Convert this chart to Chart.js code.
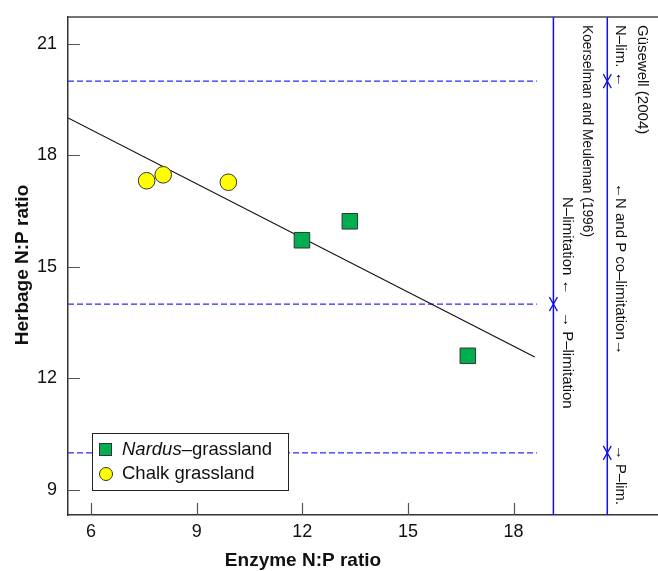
<!DOCTYPE html>
<html>
<head>
<meta charset="utf-8">
<script src="https://cdn.jsdelivr.net/npm/chart.js@4/dist/chart.umd.min.js"></script>
<style>
  html, body { margin: 0; padding: 0; background: #fff; }
  canvas { display: block; }
</style>
</head>
<body>
<canvas id="chart" width="658" height="571"></canvas>
<script>
const xTicks = [6, 9, 12, 15, 18];
const yTicks = [9, 12, 15, 18, 21];

const nardusX = [11.99, 13.35, 16.70];
const nardusY = [15.72, 16.23, 12.61];
const chalkX = [7.58, 8.05, 9.90];
const chalkY = [17.32, 17.48, 17.28];

// regression line end points
const fitX = [5.35, 18.6];
const fitY = [19.01, 12.58];

// thresholds
const dashedY = [10, 14, 20];
const dashedXEnd = 18.66;
const kmLineX = 19.13;      // Koerselman and Meuleman
const kmMarks = [14];
const gLineX = 20.66;       // Güsewell
const gMarks = [10, 20];

const X_MIN = 5.347, X_MAX = 22.10;
const Y_MIN = 8.327, Y_MAX = 21.726;

const FONT = '"Liberation Sans", Arial, sans-serif';

const toPts = (xs, ys) => xs.map((x, i) => ({x: x, y: ys[i]}));

const datasets = [
  {
    label: 'Nardus–grassland',
    data: toPts(nardusX, nardusY),
    pointStyle: 'rect',
    pointRadius: 11,
    backgroundColor: '#00ad4f',
    borderColor: '#333',
    borderWidth: 1,
    order: 0
  },
  {
    label: 'Chalk grassland',
    data: toPts(chalkX, chalkY),
    pointStyle: 'circle',
    pointRadius: 8.3,
    backgroundColor: '#ffff00',
    borderColor: '#333',
    borderWidth: 1,
    order: 0
  },
  {
    type: 'line',
    label: 'fit',
    data: toPts(fitX, fitY),
    borderColor: '#111',
    borderWidth: 1.2,
    pointRadius: 0,
    order: 1
  }
];

dashedY.forEach(v => {
  datasets.push({
    type: 'line',
    label: 'dash',
    data: [{x: X_MIN, y: v}, {x: dashedXEnd, y: v}],
    borderColor: '#2a2aff',
    borderWidth: 1.3,
    borderDash: [6, 3],
    pointRadius: 0,
    order: 2
  });
});

[kmLineX, gLineX].forEach(v => {
  datasets.push({
    type: 'line',
    label: 'vline',
    data: [{x: v, y: Y_MIN}, {x: v, y: Y_MAX}],
    borderColor: '#1010ee',
    borderWidth: 1.5,
    pointRadius: 0,
    order: 2
  });
});

function rotText(ctx, text, x, y, maxW) {
  ctx.save();
  ctx.translate(x, y);
  ctx.rotate(Math.PI / 2);
  ctx.textAlign = 'left';
  ctx.textBaseline = 'middle';
  ctx.fillText(text, 0, 0, maxW);
  ctx.restore();
}

function mark(ctx, x, y) {
  ctx.beginPath();
  ctx.moveTo(x - 4, y - 7); ctx.lineTo(x, y); ctx.lineTo(x + 4, y - 7);
  ctx.moveTo(x - 4, y + 7); ctx.lineTo(x, y); ctx.lineTo(x + 4, y + 7);
  ctx.stroke();
}

const noPad = s => {
  s.paddingLeft = 0; s.paddingRight = 0;
  s.paddingTop = 0; s.paddingBottom = 0;
};

const decor = {
  id: 'decor',
  afterDraw(chart) {
    const ctx = chart.ctx;
    const xs = chart.scales.x, ys = chart.scales.y;
    const area = chart.chartArea;
    ctx.save();

    // top frame
    ctx.strokeStyle = '#444';
    ctx.lineWidth = 1.5;
    ctx.beginPath();
    ctx.moveTo(area.left, area.top);
    ctx.lineTo(area.right, area.top);
    ctx.stroke();

    // inward ticks
    ctx.strokeStyle = '#555';
    ctx.lineWidth = 1.2;
    ctx.beginPath();
    xTicks.forEach(v => {
      const px = Math.round(xs.getPixelForValue(v)) + 0.5;
      ctx.moveTo(px, area.bottom);
      ctx.lineTo(px, area.bottom - 12);
    });
    yTicks.forEach(v => {
      const py = Math.round(ys.getPixelForValue(v)) + 0.5;
      ctx.moveTo(area.left, py);
      ctx.lineTo(area.left + 12, py);
    });
    ctx.stroke();

    // threshold marks
    ctx.strokeStyle = '#1010ee';
    ctx.lineWidth = 1.3;
    kmMarks.forEach(v => mark(ctx, xs.getPixelForValue(kmLineX), ys.getPixelForValue(v)));
    gMarks.forEach(v => mark(ctx, xs.getPixelForValue(gLineX), ys.getPixelForValue(v)));

    // rotated annotations
    ctx.fillStyle = '#111';
    ctx.font = '15px ' + FONT;
    rotText(ctx, 'Koerselman and Meuleman (1996)', 587, 25, 212);
    rotText(ctx, 'N–limitation ←', 567, 197, 100);
    rotText(ctx, '→ P–limitation', 567, 312, 98);
    rotText(ctx, 'Güsewell (2004)', 642, 25, 113);
    rotText(ctx, 'N–lim. ←', 620, 25, 62);
    rotText(ctx, '←N and P co–limitation→', 620, 183, 172);
    rotText(ctx, '→ P–lim.', 620, 445, 60);

    // axis titles
    ctx.font = 'bold 19px ' + FONT;
    ctx.textAlign = 'center';
    ctx.textBaseline = 'alphabetic';
    ctx.fillText('Enzyme N:P ratio', 303, 566);
    ctx.save();
    ctx.translate(27.5, 265);
    ctx.rotate(-Math.PI / 2);
    ctx.fillText('Herbage N:P ratio', 0, 0);
    ctx.restore();

    // legend
    ctx.fillStyle = '#fff';
    ctx.fillRect(92.5, 433.5, 196, 57);
    ctx.strokeStyle = '#222';
    ctx.lineWidth = 1;
    ctx.strokeRect(92.5, 433.5, 196, 57);

    ctx.fillStyle = '#00ad4f';
    ctx.strokeStyle = '#333';
    ctx.fillRect(99.5, 443.5, 12, 12);
    ctx.strokeRect(99.5, 443.5, 12, 12);
    ctx.fillStyle = '#ffff00';
    ctx.beginPath();
    ctx.arc(106, 474, 6.5, 0, Math.PI * 2);
    ctx.fill();
    ctx.stroke();

    ctx.fillStyle = '#111';
    ctx.textAlign = 'left';
    ctx.textBaseline = 'middle';
    ctx.font = 'italic 18.5px ' + FONT;
    ctx.fillText('Nardus', 122, 450);
    const w = ctx.measureText('Nardus').width;
    ctx.font = '18.5px ' + FONT;
    ctx.fillText('–grassland', 122 + w, 450);
    ctx.fillText('Chalk grassland', 122, 474);

    ctx.restore();
  }
};

new Chart(document.getElementById('chart'), {
  type: 'scatter',
  data: {datasets: datasets},
  options: {
    responsive: false,
    animation: false,
    layout: {autoPadding: false, padding: {top: 17, right: 0, left: 0, bottom: 0}},
    plugins: {
      legend: {display: false},
      tooltip: {enabled: false}
    },
    scales: {
      x: {
        type: 'linear',
        min: X_MIN,
        max: X_MAX,
        afterBuildTicks: s => { s.ticks = xTicks.map(v => ({value: v})); },
        afterFit: s => { s.height = 56; noPad(s); },
        grid: {display: false, drawTicks: false, tickLength: 0},
        border: {display: true, color: '#333', width: 1.5},
        ticks: {
          color: '#111',
          padding: 6,
          maxRotation: 0,
          autoSkip: false,
          font: {family: FONT, size: 18}
        }
      },
      y: {
        type: 'linear',
        min: Y_MIN,
        max: Y_MAX,
        afterBuildTicks: s => { s.ticks = yTicks.map(v => ({value: v})); },
        afterFit: s => { s.width = 68; noPad(s); },
        grid: {display: false, drawTicks: false, tickLength: 0},
        border: {display: true, color: '#333', width: 1.5},
        ticks: {
          color: '#111',
          padding: 11,
          autoSkip: false,
          font: {family: FONT, size: 18}
        }
      }
    }
  },
  plugins: [decor]
});
</script>
</body>
</html>
